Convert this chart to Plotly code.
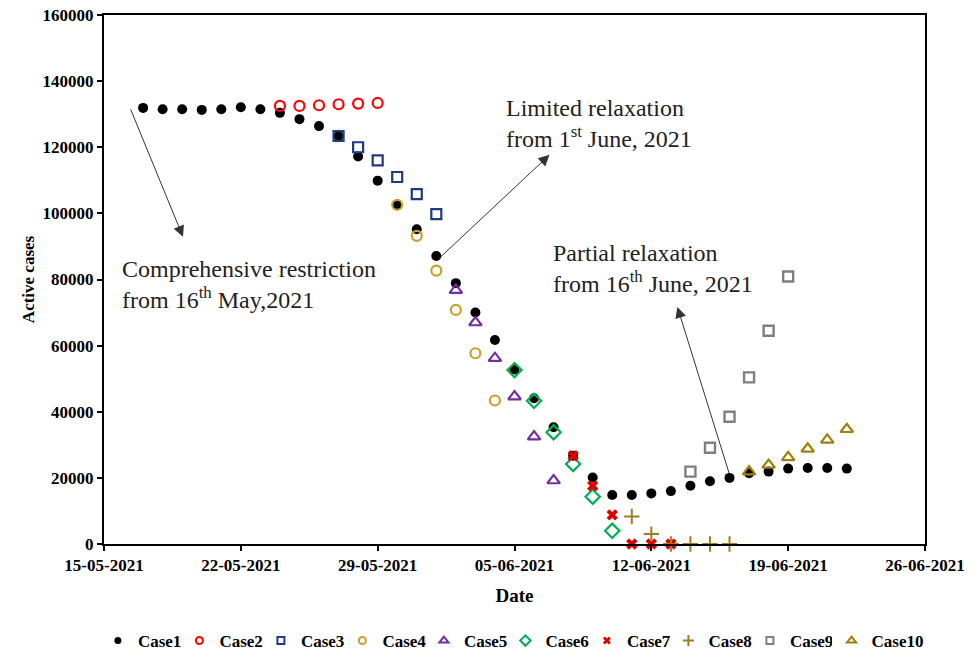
import pandas as pd
import plotly.graph_objects as go

# Active-case series: each scenario starts on its own date and runs daily
case_starts = {
    "Case1": "2021-05-17", "Case2": "2021-05-24", "Case3": "2021-05-27",
    "Case4": "2021-05-30", "Case5": "2021-06-02", "Case6": "2021-06-05",
    "Case7": "2021-06-08", "Case8": "2021-06-11", "Case9": "2021-06-14",
    "Case10": "2021-06-17",
}

case1 = [131900, 131500, 131500, 131300, 131500, 132100, 131500,
         130400, 128500, 126400, 123400, 117200, 109900, 102600, 95200,
         87100, 78900, 70000, 61700, 52800, 44100, 35300, 26700, 20100,
         14800, 14800, 15300, 16000, 17600, 19000, 20000, 21400, 21900,
         22800, 23000, 23000, 22800]
case2 = [132500, 132500, 132700, 133000, 133200, 133400]
case3 = [123400, 120000, 116000, 111000, 105800, 99800]
case4 = [102600, 93200, 82700, 70800, 57700, 43400]
case5 = [76800, 67000, 56200, 44600, 32500, 19200]
case6 = [52600, 43300, 33800, 24200, 14300, 4000]
case7 = [26700, 17600, 8800, 0, 0, 0]
case8 = [8300, 3000, 0, 0, 0, 0]
case9 = [21900, 29100, 38500, 50400, 64500, 80900]
case10 = [21900, 23900, 26200, 28800, 31500, 34700]

series = {
    "Case1": case1, "Case2": case2, "Case3": case3, "Case4": case4,
    "Case5": case5, "Case6": case6, "Case7": case7, "Case8": case8,
    "Case9": case9, "Case10": case10,
}

x_tick_start = "2021-05-15"
x_end = "2021-06-26"
y_ticks = [0, 20000, 40000, 60000, 80000, 100000, 120000, 140000, 160000]

styles = {
    "Case1": dict(symbol="circle", color="black", size=10, lw=0),
    "Case2": dict(symbol="circle-open", color="#FF0000", size=10, lw=2.2),
    "Case3": dict(symbol="square-open", color="#1F3A80", size=10, lw=2.2),
    "Case4": dict(symbol="circle-open", color="#C9A02A", size=10, lw=2.2),
    "Case5": dict(symbol="triangle-up-open", color="#7030A0", size=11, lw=2.2),
    "Case6": dict(symbol="diamond-open", color="#00B050", size=11, lw=2.2),
    "Case7": dict(symbol="x", color="#E00000", size=10, lw=0),
    "Case8": dict(symbol="cross-thin-open", color="#A07C22", size=11, lw=2),
    "Case9": dict(symbol="square-open", color="#7F7F7F", size=10, lw=2.4),
    "Case10": dict(symbol="triangle-up-open", color="#A0800C", size=11, lw=2.2),
}

SERIF = "Liberation Serif"

fig = go.Figure()
for name, vals in series.items():
    dates = pd.date_range(case_starts[name], periods=len(vals), freq="D")
    st = styles[name]
    fig.add_trace(go.Scatter(
        x=dates, y=vals, mode="markers", name=name, cliponaxis=False,
        showlegend=False,
        marker=dict(symbol=st["symbol"], color=st["color"], size=st["size"],
                    line=dict(color=st["color"], width=st["lw"])),
    ))

# Compact legend entries with smaller symbols; the last one gets its own
# legend box so its wider label is not cut off
for name in series:
    st = styles[name]
    fig.add_trace(go.Scatter(
        x=[None], y=[None], mode="markers", name=name, showlegend=True,
        legend="legend2" if name == "Case10" else "legend",
        marker=dict(symbol=st["symbol"], color=st["color"],
                    size=max(st["size"] - 3, 7),
                    line=dict(color=st["color"], width=min(st["lw"], 2))),
    ))


# Day-of-series lookup for arrow anchors
def day(name, idx):
    return pd.Timestamp(case_starts[name]) + pd.Timedelta(days=idx)


arrow_style = dict(showarrow=True, arrowhead=2, arrowsize=2.2, arrowwidth=1,
                   arrowcolor="#333333", text="", xref="x", yref="y",
                   axref="x", ayref="y", standoff=0, startstandoff=0)

annotations = [
    # restriction arrow
    dict(x=pd.Timestamp("2021-05-19 01:00"), y=92900,
         ax=pd.Timestamp("2021-05-16 08:00"), ay=131900, **arrow_style),
    # limited relaxation arrow from the 1 June point
    dict(x=pd.Timestamp("2021-06-06 19:00"), y=117700,
         ax=day("Case1", 15), ay=case1[15] - 1500, **arrow_style),
    # partial relaxation arrow from the 16 June point
    dict(x=pd.Timestamp("2021-06-13 08:00"), y=71700,
         ax=day("Case1", 30), ay=case1[30] + 1000, **arrow_style),
]

text_font = dict(family=SERIF, size=24, color="#222222")
annotations += [
    dict(text="Comprehensive restriction<br>from 16<sup>th</sup> May,2021",
         xref="paper", yref="paper", x=0.020, y=0.490, xanchor="left",
         yanchor="middle", align="left", showarrow=False, font=text_font),
    dict(text="Limited relaxation<br>from 1<sup>st</sup> June, 2021",
         xref="paper", yref="paper", x=0.487, y=0.795, xanchor="left",
         yanchor="middle", align="left", showarrow=False, font=text_font),
    dict(text="Partial relaxation<br>from 16<sup>th</sup> June, 2021",
         xref="paper", yref="paper", x=0.545, y=0.520, xanchor="left",
         yanchor="middle", align="left", showarrow=False, font=text_font),
]

tick_font = dict(family=SERIF, size=17, color="black", weight="bold")
axis_common = dict(showline=True, linecolor="black", linewidth=2, mirror=True,
                   ticks="outside", ticklen=5, tickwidth=2, tickcolor="black",
                   showgrid=False, zeroline=False, tickfont=tick_font,
                   automargin=False)

legend_font = dict(family=SERIF, size=17, weight="bold")
legend_common = dict(orientation="h", xref="container", yref="container",
                     xanchor="left", y=0.0244, yanchor="middle",
                     font=legend_font, itemwidth=30, tracegroupgap=0,
                     bgcolor="rgba(0,0,0,0)")

fig.update_layout(
    width=979, height=657,
    margin=dict(l=104, r=54, t=15, b=113, autoexpand=False),
    paper_bgcolor="white", plot_bgcolor="white",
    font=dict(family=SERIF, color="black"),
    xaxis=dict(type="date", range=[x_tick_start, x_end], tick0=x_tick_start,
               dtick=7 * 24 * 3600 * 1000, tickformat="%d-%m-%Y",
               title=dict(text="Date", standoff=14,
                          font=dict(family=SERIF, size=19, weight="bold")),
               **axis_common),
    yaxis=dict(range=[0, 160000], tickvals=y_ticks, tickformat="d",
               title=dict(text="Active cases", standoff=4,
                          font=dict(family=SERIF, size=17, weight="bold")),
               **axis_common),
    legend=dict(x=0.100, entrywidth=36.5, entrywidthmode="pixels",
                **legend_common),
    legend2=dict(x=0.8494, **legend_common),
    annotations=annotations,
    showlegend=True,
)

fig.write_html("out.html")
